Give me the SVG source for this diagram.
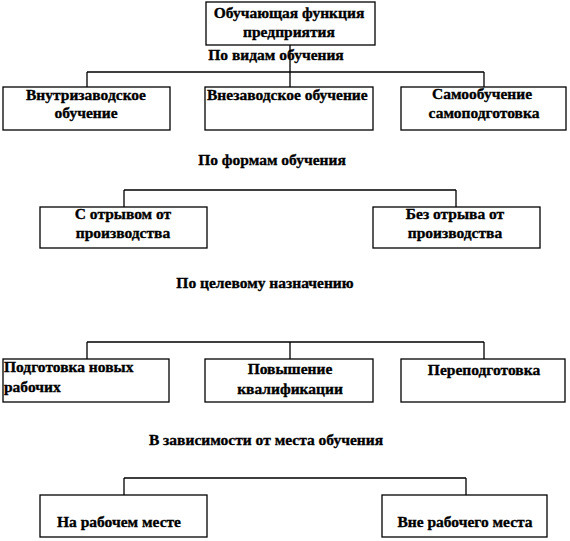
<svg xmlns="http://www.w3.org/2000/svg" width="570" height="541" viewBox="0 0 570 541">
<style>
.box{fill:#fff;stroke:#000;stroke-width:1.3}
.ln{fill:none;stroke:#000;stroke-width:1.3}
text{font-family:"Liberation Serif","Times New Roman",serif;font-weight:bold;font-size:15.5px;fill:#000;stroke:#000;stroke-width:0.35}
.c{text-anchor:middle}
</style>
<rect width="570" height="541" fill="#fff"/>
<g id="connectors">
<path class="ln" d="M290,45V72M87,72H484M87,72V87M290,72V87M484,72V87"/>
<path class="ln" d="M124,190H456M124,190V207M456,190V207"/>
<path class="ln" d="M87,342H484M87,342V359M290,342V359M484,342V359"/>
<path class="ln" d="M124,478H466M124,478V495M466,478V495"/>
</g>
<g id="root"><rect class="box" x="206" y="2" width="169" height="43"/>
<text class="c" x="289" y="18">Обучающая функция</text>
<text class="c" x="289" y="37">предприятия</text></g>
<g id="lbl1"><text class="c" x="276" y="60">По видам обучения</text></g>
<g id="n1"><rect class="box" x="3" y="87" width="167" height="43"/>
<text class="c" x="86" y="100">Внутризаводское</text>
<text class="c" x="86" y="118">обучение</text></g>
<g id="n2"><rect class="box" x="205" y="87" width="168" height="43"/>
<text x="207" y="100">Внезаводское обучение</text></g>
<g id="n3"><rect class="box" x="401" y="87" width="165" height="43"/>
<text class="c" x="482" y="99">Самообучение</text>
<text class="c" x="484" y="118">самоподготовка</text></g>
<g id="lbl2"><text class="c" x="272" y="165">По формам обучения</text></g>
<g id="n4"><rect class="box" x="40" y="207" width="167" height="41"/>
<text class="c" x="123" y="219">С отрывом от</text>
<text class="c" x="123" y="238">производства</text></g>
<g id="n5"><rect class="box" x="373" y="207" width="167" height="41"/>
<text class="c" x="455" y="219">Без отрыва от</text>
<text class="c" x="455" y="238">производства</text></g>
<g id="lbl3"><text class="c" x="265" y="288">По целевому назначению</text></g>
<g id="n6"><rect class="box" x="3" y="359" width="166" height="43"/>
<text x="4" y="372">Подготовка новых</text>
<text x="4" y="392">рабочих</text></g>
<g id="n7"><rect class="box" x="205" y="359" width="168" height="43"/>
<text class="c" x="290" y="374">Повышение</text>
<text class="c" x="290" y="394">квалификации</text></g>
<g id="n8"><rect class="box" x="401" y="359" width="164" height="43"/>
<text class="c" x="484" y="375">Переподготовка</text></g>
<g id="lbl4"><text class="c" x="266" y="445">В зависимости от места обучения</text></g>
<g id="n9"><rect class="box" x="40" y="495" width="167" height="42"/>
<text class="c" x="119" y="527">На рабочем месте</text></g>
<g id="n10"><rect class="box" x="382" y="495" width="165" height="42"/>
<text class="c" x="465" y="527">Вне рабочего места</text></g>
</svg>
